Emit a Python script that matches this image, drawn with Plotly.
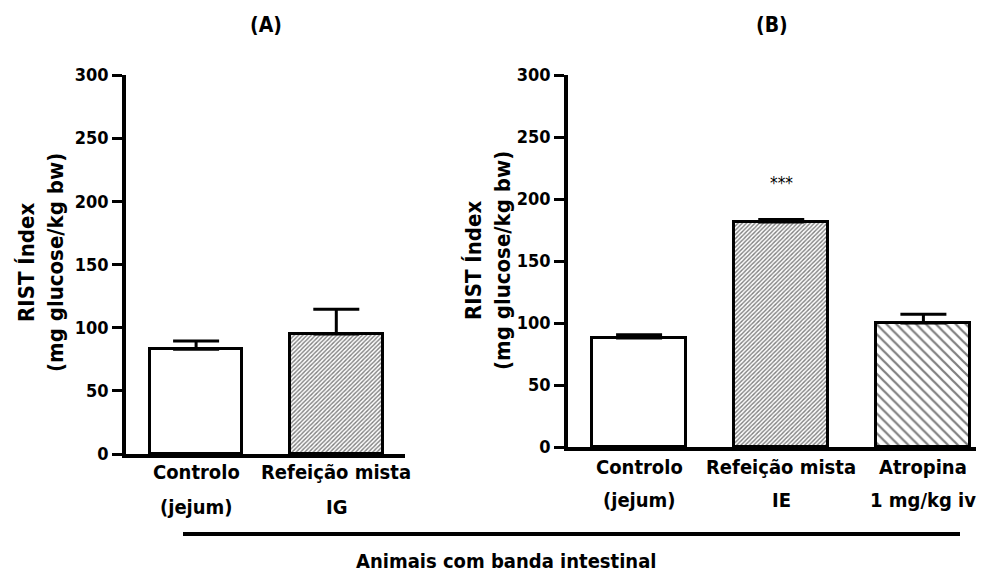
import plotly.graph_objects as go

# Panel A: intragastric mixed meal
a_line1 = ["Controlo", "Refeição mista"]
a_line2 = ["(jejum)", "IG"]
a_values = [83, 95]
a_sem = [6.5, 19.5]

# Panel B: intraenteric mixed meal and atropine
b_line1 = ["Controlo", "Refeição mista", "Atropina"]
b_line2 = ["(jejum)", "IE", "1 mg/kg iv"]
b_values = [88, 181.5, 100]
b_sem = [2.5, 2.0, 7.0]

y_ticks = [0, 50, 100, 150, 200, 250, 300]
significance = "***"
significance_y = 213
panel_titles = ["(A)", "(B)"]
y_title = "RIST Índex<br>(mg glucose/kg bw)"
group_label = "Animais com banda intestinal"

FONT = "DejaVu Sans Condensed, DejaVu Sans"
W, H = 985, 573

dense = dict(shape="/", size=3, solidity=0.45)
sparse = dict(shape="\\", size=7, solidity=0.32)
plain = dict(shape="")

fig = go.Figure()

def add_bars(xaxis, yaxis, values, sem, patterns):
    fig.add_trace(go.Bar(
        x=list(range(len(values))), y=values, width=0.66,
        xaxis=xaxis, yaxis=yaxis,
        marker=dict(color="white", line=dict(color="black", width=3),
                    pattern=dict(shape=[p.get("shape", "") for p in patterns],
                                 size=[p.get("size", 8) for p in patterns],
                                 solidity=[p.get("solidity", 0.3) for p in patterns],
                                 fgcolor="black", bgcolor="white", fillmode="overlay")),
        error_y=dict(type="data", symmetric=False, array=sem,
                     arrayminus=[0] * len(sem), color="black", thickness=3, width=23),
        showlegend=False, hoverinfo="skip",
    ))

add_bars("x", "y", a_values, a_sem, [plain, dense])
add_bars("x2", "y2", b_values, b_sem, [plain, dense, sparse])

tick_font = dict(family=FONT, size=18, color="black", weight="bold")

yaxis_common = dict(range=[0, 300], tickvals=y_ticks, ticks="outside", ticklen=10,
                    tickwidth=3, tickcolor="black", showline=True, linewidth=3.5,
                    linecolor="black", showgrid=False, zeroline=False,
                    tickfont=tick_font, fixedrange=True)
xaxis_common = dict(showline=True, linewidth=3.5, linecolor="black", showgrid=False,
                    zeroline=False, showticklabels=False, ticks="", fixedrange=True)

fig.update_layout(
    width=W, height=H,
    margin=dict(l=0, r=0, t=0, b=0, autoexpand=False),
    paper_bgcolor="white", plot_bgcolor="white",
    bargap=0,
    xaxis=dict(domain=[126 / W, 405 / W], range=[-0.5, 1.49], anchor="y", **xaxis_common),
    yaxis=dict(domain=[1 - 454 / H, 1 - 75 / H], anchor="x", **yaxis_common),
    xaxis2=dict(domain=[568 / W, 976 / W], range=[-0.5, 2.37], anchor="y2", **xaxis_common),
    yaxis2=dict(domain=[1 - 447 / H, 1 - 75 / H], anchor="x2", **yaxis_common),
)

label_font = dict(family=FONT, size=20, color="black", weight="bold")

# two-line category labels under each bar
for xa, l1, l2, y1, y2 in [("x", a_line1, a_line2, 472, 507),
                           ("x2", b_line1, b_line2, 467, 500)]:
    for i, (t1, t2) in enumerate(zip(l1, l2)):
        fig.add_annotation(x=i, xref=xa, y=1 - y1 / H, yref="paper", text=t1,
                           showarrow=False, font=label_font,
                           xanchor="center", yanchor="middle")
        fig.add_annotation(x=i, xref=xa, y=1 - y2 / H, yref="paper", text=t2,
                           showarrow=False, font=label_font,
                           xanchor="center", yanchor="middle")

# panel titles
for xa, t in zip(["x domain", "x2 domain"], panel_titles):
    fig.add_annotation(x=0.5, xref=xa, y=1 - 25 / H, yref="paper", text=t,
                       showarrow=False, xanchor="center", yanchor="middle",
                       font=dict(family=FONT, size=21, color="black", weight="bold"))

# rotated y-axis titles
for cx, cy in [(41, 263), (488, 261)]:
    fig.add_annotation(x=cx / W, xref="paper", y=1 - cy / H, yref="paper", text=y_title,
                       textangle=-90, showarrow=False, xanchor="center", yanchor="middle",
                       font=dict(family=FONT, size=22, color="black", weight="bold"))

# significance marker above the intraenteric meal bar
fig.add_annotation(x=1, xref="x2", y=significance_y, yref="y2", text=significance,
                   showarrow=False, xanchor="center", yanchor="middle",
                   font=dict(family=FONT, size=17, color="black"))

# grouping bracket and label
fig.add_shape(type="line", xref="paper", yref="paper", x0=183 / W, x1=960 / W,
              y0=1 - 534 / H, y1=1 - 534 / H, line=dict(color="black", width=4))
fig.add_annotation(x=506 / W, xref="paper", y=1 - 561 / H, yref="paper", text=group_label,
                   showarrow=False, xanchor="center", yanchor="middle", font=label_font)

fig.write_html("out.html")
